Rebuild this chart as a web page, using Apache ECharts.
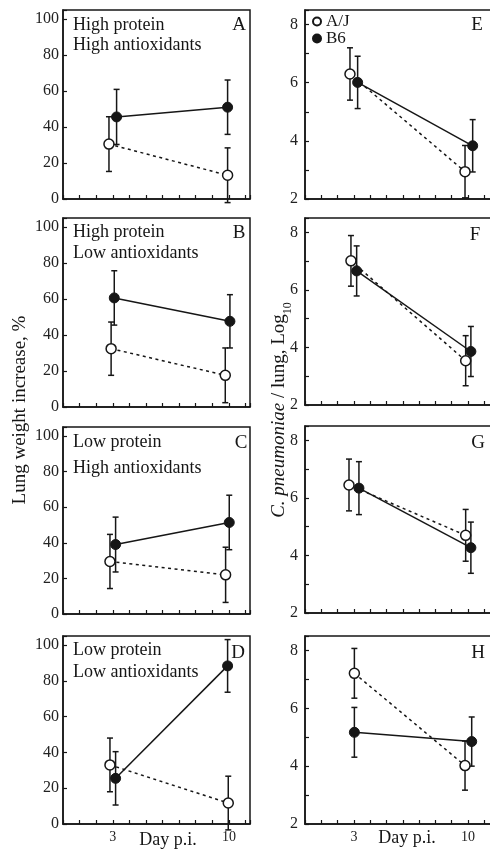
<!DOCTYPE html>
<html>
<head>
<meta charset="utf-8">
<script src="https://cdn.jsdelivr.net/npm/echarts@6/dist/echarts.min.js"></script>
<style>
  html, body { margin: 0; padding: 0; background: #fff; }
  #chart { width: 490px; height: 852px; }
</style>
</head>
<body>
<div id="chart"></div>
<script>
// ---------------- data ----------------
const panelIds = ['A', 'B', 'C', 'D', 'E', 'F', 'G', 'H'];
const panelLine1 = ['High protein', 'High protein', 'Low protein', 'Low protein'];
const panelLine2 = ['High antioxidants', 'Low antioxidants', 'High antioxidants', 'Low antioxidants'];
const seriesNames = ['A/J', 'B6'];
const xTickLabels = [3, 10];
const leftYTickLabels = [0, 20, 40, 60, 80, 100];
const rightYTickLabels = [2, 4, 6, 8];

// means (A-D: lung weight increase, %; E-H: log10 C. pneumoniae / lung)
const ajDay3  = [30.5, 32.4, 29.5, 33.0, 6.30, 7.01, 6.45, 7.21];
const ajDay10 = [13.2, 17.6, 22.0, 11.7, 2.94, 3.54, 4.70, 4.02];
const b6Day3  = [45.6, 60.6, 39.0, 25.5, 6.01, 6.66, 6.34, 5.17];
const b6Day10 = [51.0, 47.6, 51.4, 88.3, 3.83, 3.86, 4.27, 4.85];
// error half-widths
const ajErr3  = [15.2, 14.8, 15.2, 15.0, 0.90, 0.88, 0.90, 0.86];
const ajErr10 = [15.2, 15.2, 15.5, 15.0, 0.90, 0.87, 0.90, 0.85];
const b6Err3  = [15.3, 15.1, 15.4, 14.9, 0.90, 0.87, 0.92, 0.86];
const b6Err10 = [15.1, 14.8, 15.3, 14.7, 0.90, 0.87, 0.89, 0.85];
// plotted day positions (points slightly staggered around day 3 and day 10)
const ajX3  = [2.77, 2.90, 2.83, 2.83, 2.76, 2.82, 2.70, 3.03];
const ajX10 = [9.92, 9.78, 9.80, 9.96, 9.82, 9.86, 9.86, 9.82];
const b6X3  = [3.23, 3.09, 3.17, 3.17, 3.23, 3.17, 3.31, 3.03];
const b6X10 = [9.92, 10.06, 10.02, 9.92, 10.29, 10.18, 10.18, 10.23];

// ---------------- layout ----------------
const FONT = "'Liberation Serif', 'DejaVu Serif', 'Times New Roman', serif";
const INK = '#161616';
const gridTops    = [10, 218, 427, 636, 10, 218, 426, 636];
const gridHeights = [189, 189, 187, 188, 189, 187, 187, 188];
const textY1 = [25, 232, 442, 650];
const textY2 = [45, 253, 468, 672];
const letterPos = [[239, 25], [239, 233], [241, 443], [238, 653], [477, 25], [475, 235], [478, 443], [478, 653]];

const grids = [], xAxes = [], yAxes = [], series = [];

function renderErr(params, api) {
  const x = api.value(0), lo = api.value(1), hi = api.value(2);
  const a = api.coord([x, hi]);
  const b = api.coord([x, lo]);
  const cap = 3;
  const st = { stroke: INK, lineWidth: 1.5 };
  return {
    type: 'group',
    children: [
      { type: 'line', shape: { x1: a[0], y1: a[1], x2: b[0], y2: b[1] }, style: st },
      { type: 'line', shape: { x1: a[0] - cap, y1: a[1], x2: a[0] + cap, y2: a[1] }, style: st },
      { type: 'line', shape: { x1: b[0] - cap, y1: b[1], x2: b[0] + cap, y2: b[1] }, style: st }
    ]
  };
}

for (let i = 0; i < 8; i++) {
  const left = i < 4;
  const bottomRow = (i === 3 || i === 7);
  grids.push({
    left: left ? 63 : 305,
    width: left ? 187 : 190,
    top: gridTops[i],
    height: gridHeights[i],
    show: true,
    borderColor: INK,
    borderWidth: 1.5,
    backgroundColor: 'transparent',
    containLabel: false,
    outerBoundsMode: 'none'
  });
  xAxes.push({
    type: 'value',
    gridIndex: i,
    min: 0,
    max: left ? 11.27 : 11.66,
    interval: 1,
    axisLine: { show: true, lineStyle: { color: INK, width: 1.5 } },
    axisTick: { show: true, inside: true, length: 4, lineStyle: { color: INK, width: 1.2 } },
    axisLabel: {
      show: bottomRow,
      margin: 6,
      fontFamily: FONT,
      fontSize: 14,
      color: '#222',
      formatter: v => xTickLabels.indexOf(v) >= 0 ? String(v) : ''
    },
    splitLine: { show: false }
  });
  yAxes.push(left ? {
    type: 'value',
    gridIndex: i,
    min: 0,
    max: 105,
    interval: 20,
    axisLine: { show: true, lineStyle: { color: INK, width: 1.5 } },
    axisTick: { show: true, inside: true, length: 4, lineStyle: { color: INK, width: 1.2 } },
    axisLabel: {
      margin: 4, fontFamily: FONT, fontSize: 16, color: '#222',
      formatter: v => leftYTickLabels.indexOf(v) >= 0 ? String(v) : ''
    },
    splitLine: { show: false }
  } : {
    type: 'value',
    gridIndex: i,
    min: 2,
    max: 8.5,
    interval: 1,
    axisLine: { show: true, lineStyle: { color: INK, width: 1.5 } },
    axisTick: { show: true, inside: true, length: 4, lineStyle: { color: INK, width: 1.2 } },
    axisLabel: {
      margin: 7, fontFamily: FONT, fontSize: 16, color: '#222',
      formatter: v => rightYTickLabels.indexOf(v) >= 0 ? String(v) : ''
    },
    splitLine: { show: false }
  });

  // error bars
  series.push({
    type: 'custom',
    xAxisIndex: i,
    yAxisIndex: i,
    z: 1,
    clip: false,
    silent: true,
    encode: { x: 0, y: [1, 2] },
    renderItem: renderErr,
    data: [
      [ajX3[i], ajDay3[i] - ajErr3[i], ajDay3[i] + ajErr3[i]],
      [ajX10[i], ajDay10[i] - ajErr10[i], ajDay10[i] + ajErr10[i]],
      [b6X3[i], b6Day3[i] - b6Err3[i], b6Day3[i] + b6Err3[i]],
      [b6X10[i], b6Day10[i] - b6Err10[i], b6Day10[i] + b6Err10[i]]
    ]
  });
  // A/J (open circles, dashed)
  series.push({
    type: 'line',
    name: seriesNames[0],
    xAxisIndex: i,
    yAxisIndex: i,
    z: 3,
    symbol: 'circle',
    symbolSize: 10,
    showSymbol: true,
    itemStyle: { color: '#fff', borderColor: INK, borderWidth: 1.5 },
    lineStyle: { color: INK, width: 1.5, type: [3, 3.5] },
    data: [[ajX3[i], ajDay3[i]], [ajX10[i], ajDay10[i]]]
  });
  // B6 (filled circles, solid)
  series.push({
    type: 'line',
    name: seriesNames[1],
    xAxisIndex: i,
    yAxisIndex: i,
    z: 4,
    symbol: 'circle',
    symbolSize: 10,
    showSymbol: true,
    itemStyle: { color: INK, borderColor: INK, borderWidth: 1 },
    lineStyle: { color: INK, width: 1.5, type: 'solid' },
    data: [[b6X3[i], b6Day3[i]], [b6X10[i], b6Day10[i]]]
  });
}

// ---------------- texts ----------------
const graphics = [];
function txt(text, x, y, size, extra) {
  return {
    type: 'text', x: x, y: y, silent: true, z: 10,
    style: Object.assign({
      text: text, fontFamily: FONT, fontSize: size, fill: INK,
      align: 'left', verticalAlign: 'middle'
    }, extra || {})
  };
}
for (let i = 0; i < 4; i++) {
  graphics.push(txt(panelLine1[i], 73, textY1[i], 18));
  graphics.push(txt(panelLine2[i], 73, textY2[i], 18));
}
for (let i = 0; i < 8; i++) {
  graphics.push(txt(panelIds[i], letterPos[i][0], letterPos[i][1], 19, { align: 'center' }));
}
graphics.push(txt('Day p.i.', 168, 840, 18, { align: 'center' }));
graphics.push(txt('Day p.i.', 407, 838, 18, { align: 'center' }));
graphics.push({
  type: 'text', x: 20, y: 410, rotation: Math.PI / 2, silent: true,
  style: { text: 'Lung weight increase, %', fontFamily: FONT, fontSize: 19, fill: INK, align: 'center', verticalAlign: 'middle' }
});
graphics.push({
  type: 'text', x: 279, y: 410, rotation: Math.PI / 2, silent: true,
  style: {
    text: '{i|C. pneumoniae}{n| / lung, Log}{s|10}',
    fontFamily: FONT, fontSize: 19, fill: INK, align: 'center', verticalAlign: 'middle',
    rich: {
      i: { fontFamily: FONT, fontSize: 19, fontStyle: 'italic', fill: INK, lineHeight: 30, verticalAlign: 'middle' },
      n: { fontFamily: FONT, fontSize: 19, fill: INK, lineHeight: 30, verticalAlign: 'middle' },
      s: { fontFamily: FONT, fontSize: 12, fill: INK, lineHeight: 12, verticalAlign: 'bottom' }
    }
  }
});

const chart = echarts.init(document.getElementById('chart'), null, { renderer: 'canvas' });
chart.setOption({
  animation: false,
  backgroundColor: '#fff',
  legend: {
    data: seriesNames,
    orient: 'vertical',
    left: 312,
    top: 13,
    itemWidth: 8,
    itemHeight: 8,
    itemGap: 0,
    padding: 0,
    icon: 'circle',
    selectedMode: false,
    textStyle: { fontFamily: FONT, fontSize: 17, color: INK, lineHeight: 17 }
  },
  grid: grids,
  xAxis: xAxes,
  yAxis: yAxes,
  series: series,
  graphic: graphics
});
</script>
</body>
</html>
